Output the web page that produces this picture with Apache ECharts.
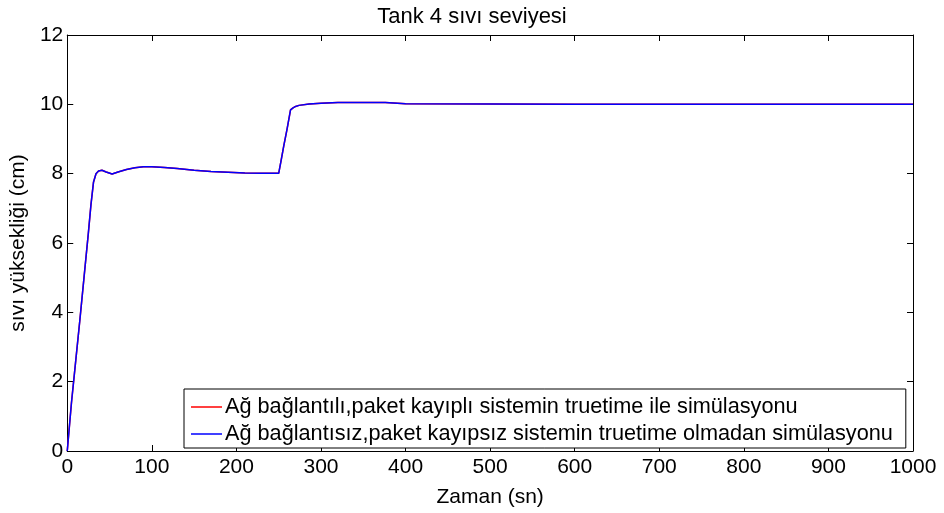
<!DOCTYPE html>
<html>
<head>
<meta charset="utf-8">
<script src="https://cdn.jsdelivr.net/npm/echarts@6/dist/echarts.min.js"></script>
<style>html,body{margin:0;padding:0;background:#fff;}#c{width:944px;height:513px;}</style>
</head>
<body>
<div id="c"></div>
<script>
const titleText = 'Tank 4 sıvı seviyesi';
const xName = 'Zaman (sn)';
const yName = 'sıvı yüksekliği (cm)';
const seriesNames = [
  'Ağ bağlantılı,paket kayıplı sistemin truetime ile simülasyonu',
  'Ağ bağlantısız,paket kayıpsız sistemin truetime olmadan simülasyonu'
];
const xTicks = [0, 100, 200, 300, 400, 500, 600, 700, 800, 900, 1000];
const yTicks = [0, 2, 4, 6, 8, 10, 12];
const time = [0, 5, 10, 15, 20, 25, 28, 31, 34, 37, 41, 46, 53, 60, 70, 80, 90, 100, 115, 130, 150, 170, 190, 210, 230, 250, 253, 256, 260, 264, 267, 270, 274, 286, 300, 320, 350, 376, 400, 500, 600, 700, 800, 900, 1000];
const levelNet = [0, 1.4, 2.6, 3.8, 5.05, 6.3, 7.1, 7.75, 8.0, 8.08, 8.1, 8.05, 7.99, 8.05, 8.12, 8.17, 8.2, 8.2, 8.18, 8.15, 8.1, 8.06, 8.04, 8.02, 8.01, 8.01, 8.4, 8.8, 9.3, 9.84, 9.9, 9.94, 9.97, 10.01, 10.03, 10.05, 10.05, 10.05, 10.02, 10.01, 10.0, 10.0, 10.0, 10.0, 10.0];
const levelLocal = [0, 1.4, 2.6, 3.8, 5.05, 6.3, 7.1, 7.75, 8.0, 8.08, 8.1, 8.05, 7.99, 8.05, 8.12, 8.17, 8.2, 8.2, 8.18, 8.15, 8.1, 8.06, 8.04, 8.02, 8.01, 8.01, 8.4, 8.8, 9.3, 9.84, 9.9, 9.94, 9.97, 10.01, 10.03, 10.05, 10.05, 10.05, 10.02, 10.01, 10.0, 10.0, 10.0, 10.0, 10.0];

const FONT = 'Liberation Sans, Arial, sans-serif';
const pairs = (xs, ys) => xs.map((x, i) => [x, ys[i]]);
const axisCommonX = {
  type: 'value', min: 0, max: 1000, interval: 100,
  axisLine: { show: true, onZero: false, lineStyle: { color: '#000', width: 1 } },
  axisTick: { show: true, inside: true, length: 6, lineStyle: { color: '#000' } },
  splitLine: { show: false }
};
const axisCommonY = {
  type: 'value', min: 0, max: 12, interval: 2,
  axisLine: { show: true, onZero: false, lineStyle: { color: '#000', width: 1 } },
  axisTick: { show: true, inside: true, length: 6, lineStyle: { color: '#000' } },
  splitLine: { show: false }
};
const chart = echarts.init(document.getElementById('c'), null, { renderer: 'canvas' });
chart.setOption({
  animation: false,
  backgroundColor: '#fff',
  title: {
    text: titleText, left: 'center', top: 1,
    textStyle: { fontFamily: FONT, fontSize: 22, fontWeight: 'normal', color: '#000' }
  },
  grid: { left: 64, right: 31, top: 35, bottom: 56, containLabel: false },
  legend: {
    orient: 'vertical', left: 184, top: 389,
    data: seriesNames,
    icon: 'rect', itemWidth: 31, itemHeight: 1.5, itemGap: 5,
    borderColor: '#000', borderWidth: 1, padding: [7, 13, 3, 7],
    backgroundColor: '#fff',
    textStyle: { fontFamily: FONT, fontSize: 21.7, color: '#000', padding: [0, 0, 0, -2] }
  },
  xAxis: [
    Object.assign({}, axisCommonX, {
      position: 'bottom',
      name: xName, nameLocation: 'middle', nameGap: 36,
      nameTextStyle: { fontFamily: FONT, fontSize: 21, color: '#000' },
      axisLabel: { fontFamily: FONT, fontSize: 21, color: '#000', margin: 6,
        formatter: v => xTicks.includes(v) ? String(v) : '' }
    }),
    Object.assign({}, axisCommonX, { position: 'top', axisLabel: { show: false } })
  ],
  yAxis: [
    Object.assign({}, axisCommonY, {
      position: 'left',
      name: yName, nameLocation: 'middle', nameGap: 32,
      nameTextStyle: { fontFamily: FONT, fontSize: 21, color: '#000' },
      axisLabel: { fontFamily: FONT, fontSize: 21, color: '#000', margin: 4,
        formatter: v => yTicks.includes(v) ? String(v) : '' }
    }),
    Object.assign({}, axisCommonY, { position: 'right', axisLabel: { show: false } })
  ],
  series: [
    { name: seriesNames[0], type: 'line', data: pairs(time, levelNet), showSymbol: false, symbol: 'none',
      lineStyle: { color: '#ff0000', width: 1.5 }, itemStyle: { color: '#ff0000' }, z: 2 },
    { name: seriesNames[1], type: 'line', data: pairs(time, levelLocal), showSymbol: false, symbol: 'none',
      lineStyle: { color: '#0000ff', width: 1.5 }, itemStyle: { color: '#0000ff' }, z: 3 }
  ]
});
</script>
</body>
</html>
